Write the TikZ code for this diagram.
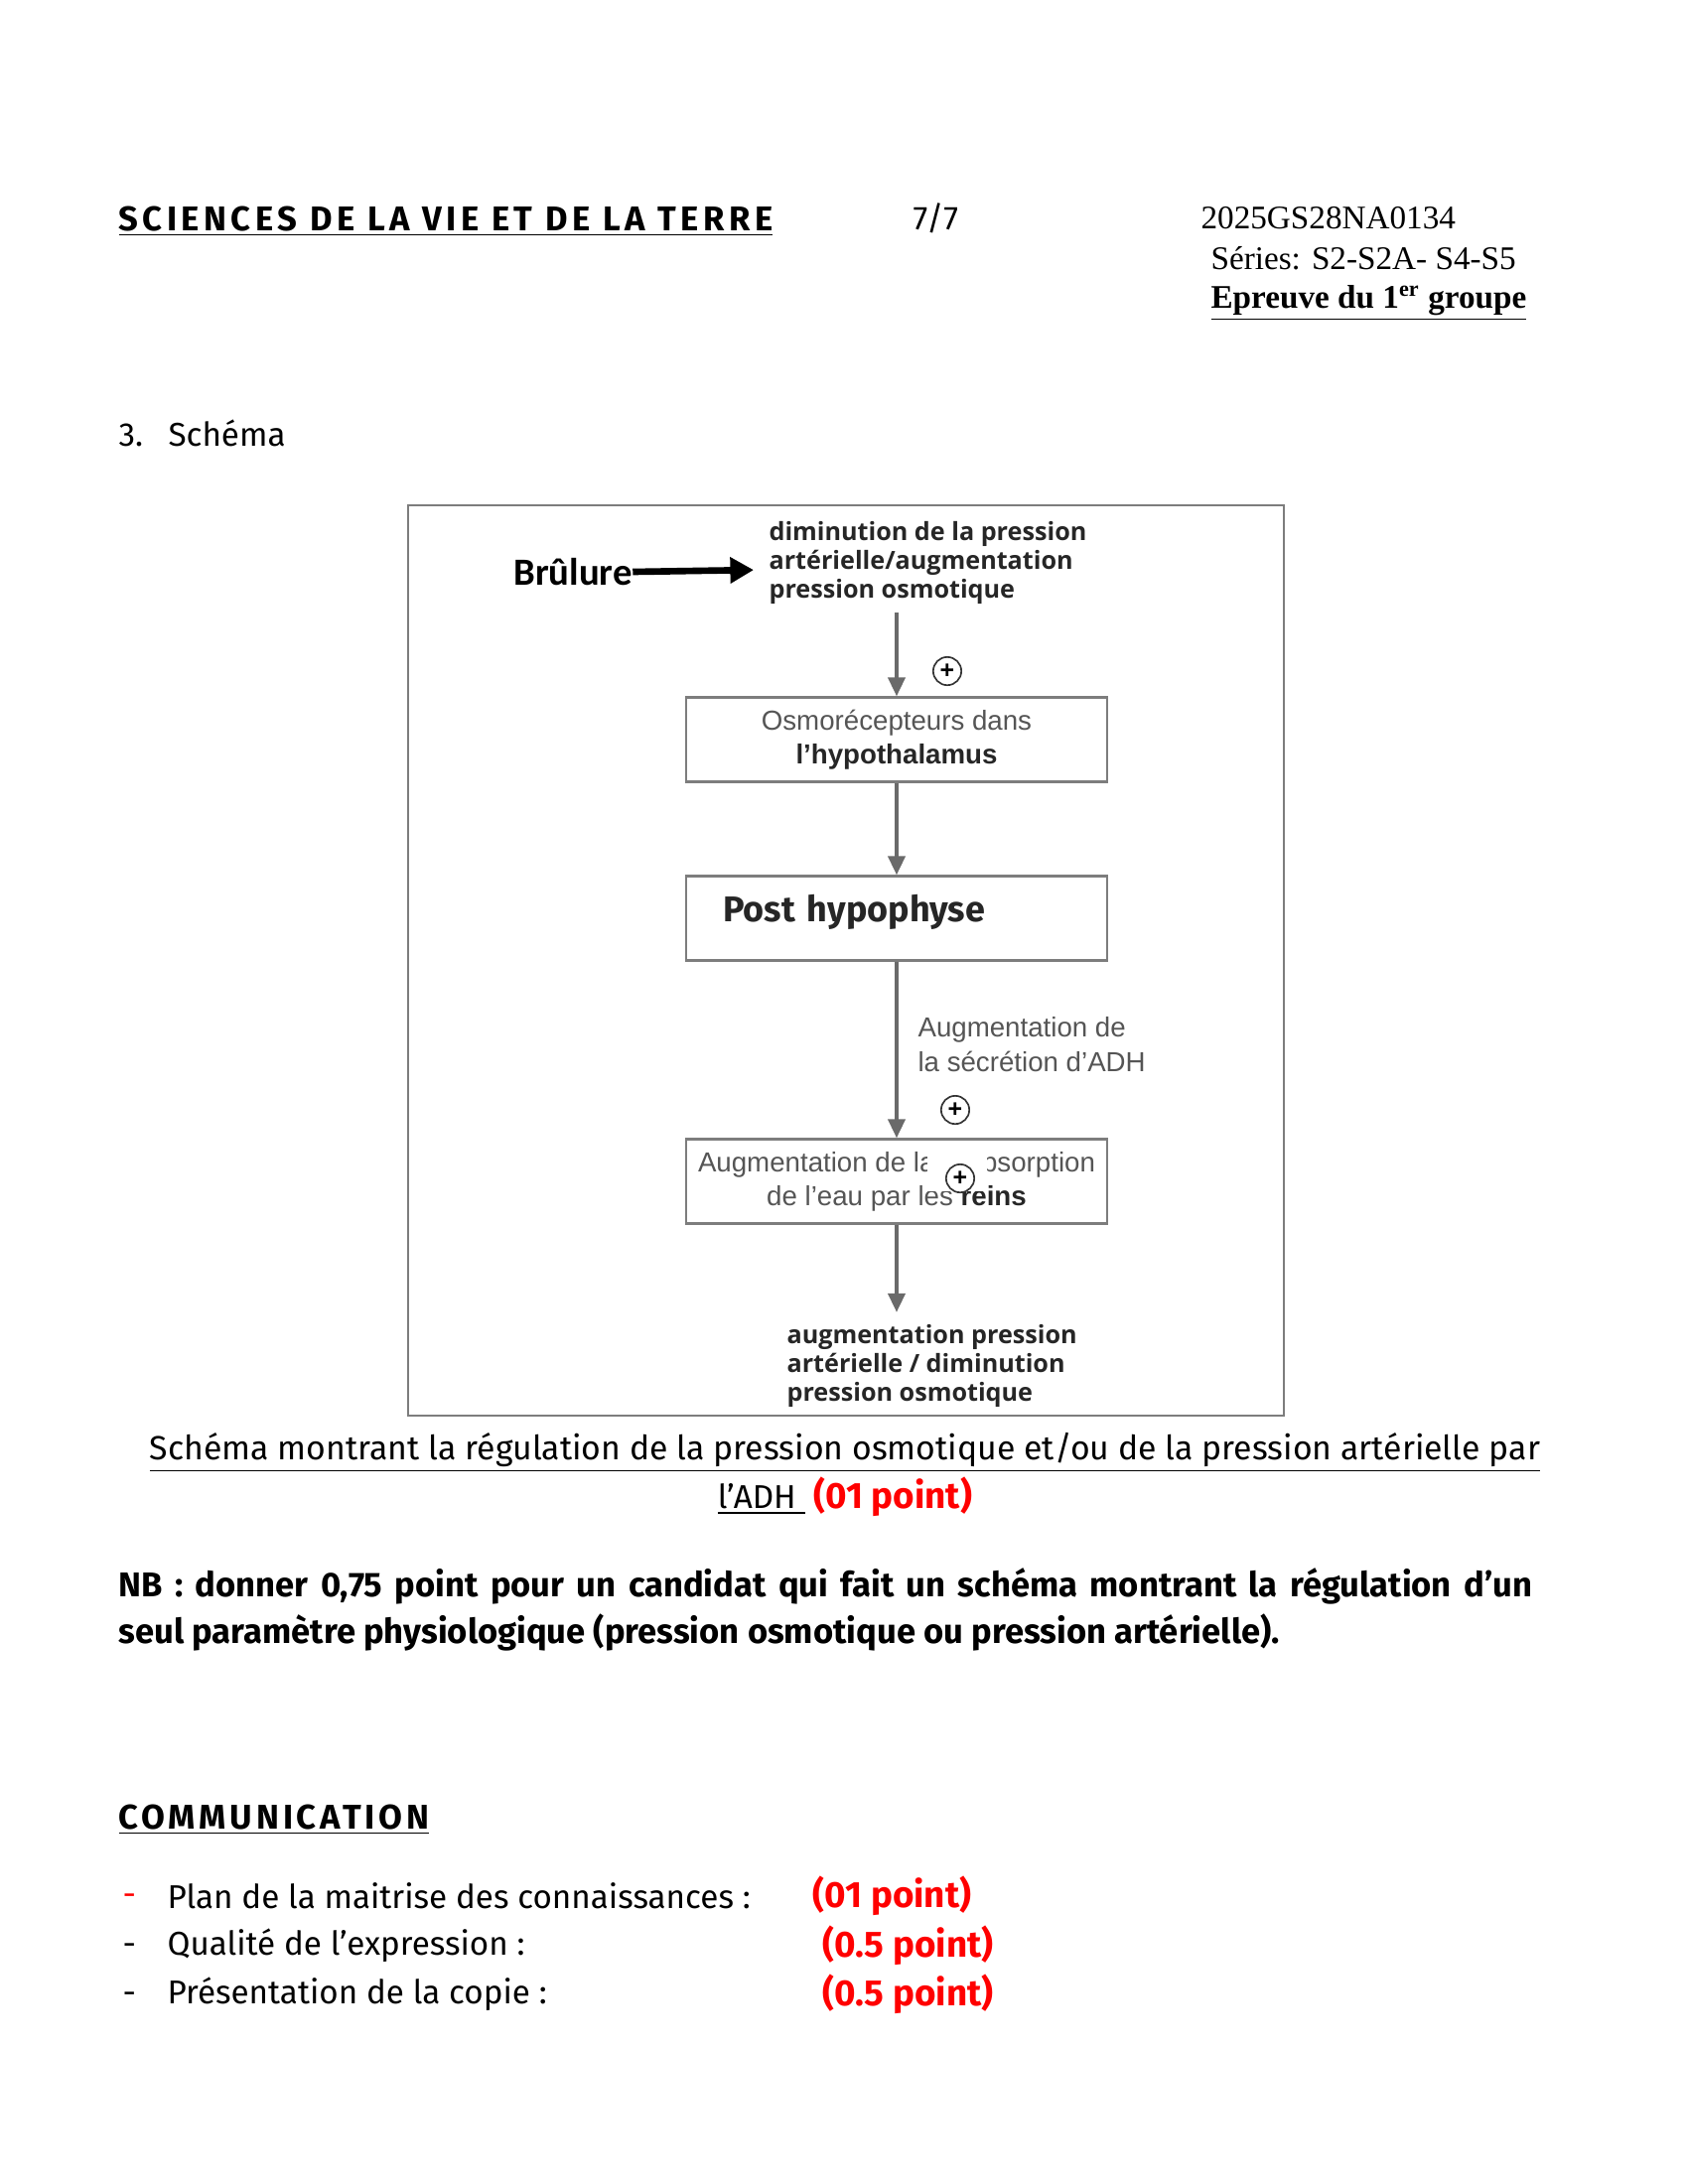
\documentclass[tikz,border=0pt]{standalone}
\usepackage{fontspec}
\setmainfont{Liberation Serif}
\newfontfamily\comicfont{Fira Sans}
\newfontfamily\comiccaps{Fira Sans}[LetterSpace=13]
\newfontfamily\comiccapsB{Fira Sans}[LetterSpace=11]
\newfontfamily\schemafont{Open Sans}
\newfontfamily\boxfont{Liberation Sans}
\newfontfamily\brulfont{Carlito}
\usepackage{xcolor}
\usetikzlibrary{arrows.meta,positioning}

\definecolor{boxgray}{RGB}{125,125,125}
\definecolor{txtgray}{RGB}{85,85,85}

\tikzset{
  txt/.style={anchor=west, inner sep=0pt},
  comic/.style={font=\comicfont\fontsize{12}{14}\selectfont},
  titre/.style={font=\comiccaps\bfseries\fontsize{12.5}{14}\selectfont},
  points/.style={text=red, font=\comicfont\bfseries\fontsize{13.3}{15}\selectfont},
  etat/.style={anchor=west, inner sep=0pt, align=left, font=\schemafont\bfseries\fontsize{9.1}{10.6}\selectfont, text=black!85},
  flowbox/.style={draw=boxgray, line width=0.9pt, minimum width=53.8mm, minimum height=10.8mm, align=center, font=\boxfont\fontsize{10}{12.2}\selectfont, text=txtgray},
  flowarrow/.style={draw=boxgray!85!black, line width=1.1pt, -{Triangle[length=2.4mm,width=2.2mm]}},
  plusmark/.style={circle, draw=black!80, line width=0.6pt, minimum size=3.6mm, inner sep=0pt, fill=white, font=\boxfont\bfseries\fontsize{9}{9}\selectfont},
}

\begin{document}
\begin{tikzpicture}[x=0.127mm, y=-0.127mm]
  \useasboundingbox (0,0) rectangle (1700,2200);

  % en-tete
  \node[txt, titre] (matiere) at (119,223) {\underline{SCIENCES DE LA VIE ET DE LA TERRE}};
  \node[txt, comic] (page) at (919,220) {7/7};
  \node[txt, font=\fontsize{12}{14}\selectfont] (code) at (1209,220) {2025GS28NA0134};
  \node[txt, font=\fontsize{12}{14}\selectfont] (series) at (1219,260) {Séries: S2-S2A- S4-S5};
  \node[txt, font=\fontsize{12}{14}\selectfont] (epreuve) at (1219,305) {\bfseries\underline{Epreuve du 1\textsuperscript{er} groupe}};

  \node[txt, comic] (question) at (119,436) {\makebox[6.35mm][l]{3.}Schéma};

  % le schema
  \draw[boxgray, line width=0.8pt] (411,509) rectangle (1293,1426);

  \node[inner sep=0pt, font=\brulfont\bfseries\fontsize{14}{16}\selectfont] (brulure) at (577,576) {Brûlure};
  \node[etat] (stimulus) at (774,567) {diminution de la pression\\artérielle/augmentation\\pression osmotique};
  \draw[line width=2.4pt, -{Triangle[length=3mm,width=3.2mm]}] (brulure.east) -- ([xshift=-1.9mm,yshift=-0.9mm]stimulus.west);

  \node[flowbox] (osmo) at (903,745) {Osmorécepteurs dans\\\textcolor{black!85}{\bfseries l’hypothalamus}};
  \node[flowbox, align=left, text width=44.4mm, inner xsep=4.7mm, font=\comicfont\bfseries\fontsize{13}{15}\selectfont, text=black!85] (posthyp) at (903,925) {\raisebox{2.6mm}{Post hypophyse}};
  \node[flowbox] (reabs) at (903,1190) {Augmentation de la réabsorption\\de l’eau par les \textcolor{black!85}{\bfseries reins}};
  \node[etat, font=\boxfont\fontsize{10}{12.4}\selectfont, text=txtgray] (secretion) at (924,1052) {Augmentation de\\la sécrétion d’ADH};
  \node[etat] (retour) at (792,1376) {augmentation pression\\artérielle / diminution\\pression osmotique};

  \draw[flowarrow] ([yshift=-1mm]osmo.north |- stimulus.south) -- (osmo.north);
  \draw[flowarrow] (osmo) -- (posthyp);
  \draw[flowarrow] (posthyp) -- (reabs);
  \draw[flowarrow] (reabs.south) -- ([yshift=1.5mm]reabs.south |- retour.north);

  \node[plusmark] (plusA) at (954,676) {+};
  \node[plusmark] (plusB) at (962,1118) {+};
  \fill[white] (934,1155) rectangle (994,1200);
  \node[plusmark] (plusC) at (967,1187) {+};

  % legende
  \node[comic, font=\comicfont\fontsize{12.2}{14}\selectfont] (legende) at (851,1463) {\underline{Schéma montrant la régulation de la pression osmotique et/ou de la pression artérielle par}};
  \node[comic] (legendeB) at (851,1508) {\underline{l’ADH\ } \textcolor{red}{\fontsize{13.3}{15}\selectfont\bfseries (01 point)}};

  \node[txt, comic, font=\comicfont\bfseries\fontsize{12.5}{14}\selectfont] (nbA) at (119,1598) {\makebox[180.8mm][s]{NB : donner 0,75 point pour un candidat qui fait un schéma montrant la régulation d’un}};
  \node[txt, comic, font=\comicfont\bfseries\fontsize{12.5}{14}\selectfont] (nbB) at (119,1644) {seul paramètre physiologique (pression osmotique ou pression artérielle).};

  % communication
  \node[txt, font=\comiccapsB\bfseries\fontsize{12.5}{14}\selectfont] (commu) at (119,1833) {\underline{COMMUNICATION}};
  \foreach \y/\col/\lib/\xp/\pts in {1910/red/Plan de la maitrise des connaissances :/818/(01 point),
      1960/black/Qualité de l’expression :/828/(0.5 point),
      2009/black/Présentation de la copie :/828/(0.5 point)} {
    \node[txt, comic, text=\col] (tiret\y) at (123,\y+4) {-};
    \node[txt, comic] (crit\y) at (168,\y) {\lib};
    \node[txt, points] (pts\y) at (\xp,\y) {\pts};
  }
\end{tikzpicture}
\end{document}
